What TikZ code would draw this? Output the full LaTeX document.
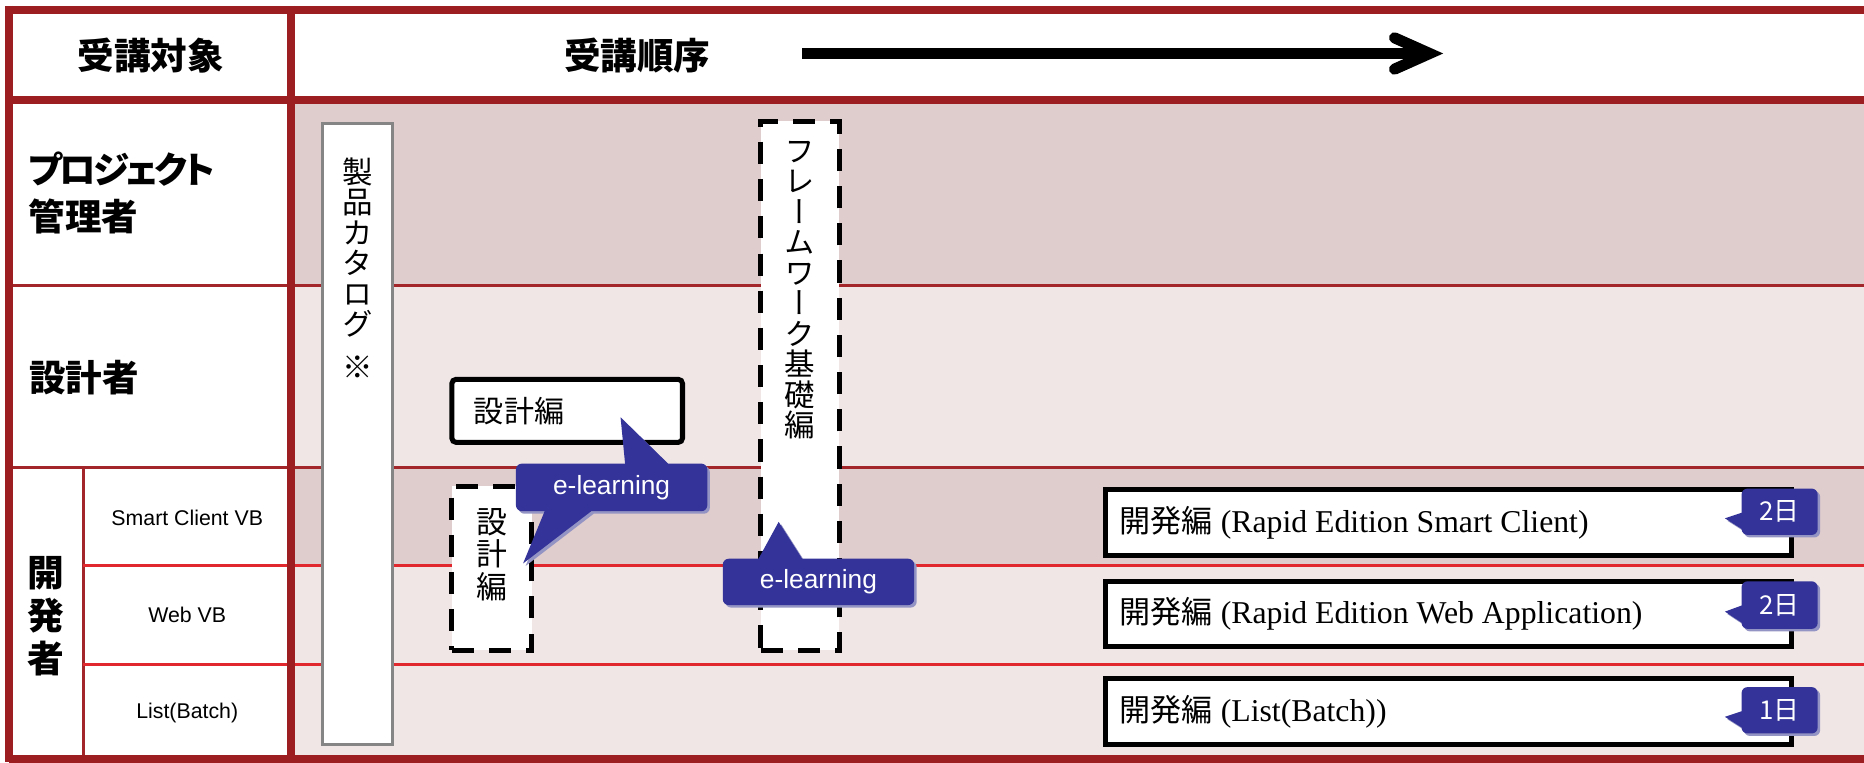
\documentclass[tikz,border=0pt]{standalone}
\usepackage{fontspec}
\usetikzlibrary{arrows.meta,shadows}
\newfontfamily\jp{Noto Sans CJK JP}
\newfontfamily\jpb[RawFeature=+palt]{Noto Sans CJK JP}
\newfontfamily\jpv[RawFeature=+vert]{Noto Sans CJK JP}
\newfontfamily\arial{Liberation Sans}
\newfontfamily\romanfont{Liberation Serif}
\definecolor{framered}{HTML}{9C1E21}
\definecolor{linered}{HTML}{A3262A}
\definecolor{brightred}{HTML}{E0282E}
\definecolor{rowdark}{HTML}{DFCCCC}
\definecolor{rowlight}{HTML}{F0E6E6}
\definecolor{boxgray}{HTML}{858585}
\definecolor{callblue}{HTML}{333399}
\definecolor{callshade}{HTML}{9494C4}

\begin{document}
\begin{tikzpicture}[x=1cm, y=-1cm,
  framerule/.style={draw=framered, line width=1.9pt},
  rowrule/.style={draw=linered, line width=0.7pt},
  subrule/.style={draw=brightred, line width=0.7pt},
  hdr/.style={font=\jpb\bfseries\fontsize{8.75}{11.3}\selectfont, inner sep=0pt},
  sublabel/.style={font=\arial\fontsize{5.1}{6}\selectfont, inner sep=0pt},
  vtext/.style={font=\jpv\fontsize{7.3}{7.3}\selectfont, align=center, inner sep=0pt},
  boxtext/.style={font=\jp\fontsize{7.2}{8}\selectfont, inner sep=0pt},
  devtext/.style={font=\romanfont\fontsize{7.6}{8}\selectfont, inner sep=0pt},
  catbox/.style={draw=boxgray, fill=white, line width=0.7pt, inner sep=0pt},
  solidbox/.style={draw=black, fill=white, line width=1.2pt, rounded corners=1pt, inner sep=0pt},
  dashbox/.style={draw=black, fill=white, line width=1.2pt, dash pattern=on 5.3pt off 3.6pt, inner sep=0pt},
  devbox/.style={draw=black, fill=white, line width=1.2pt, inner sep=0pt},
  callout/.style={fill=callblue, drop shadow={shadow xshift=0.6pt, shadow yshift=-0.6pt, fill=callshade, opacity=1}},
  calltext/.style={font=\arial\fontsize{6.3}{7}\selectfont, text=white, inner sep=0pt},
  daytext/.style={font=\jp\fontsize{6.2}{7}\selectfont, text=white, inner sep=0pt}]
  \useasboundingbox (0,0) rectangle (15.68,6.41);
  \fill[white] (0,0) rectangle (15.68,6.41);

  % row shading
  \fill[rowdark] (2.45,0.84) rectangle (15.68,2.40);
  \fill[rowlight] (2.45,2.40) rectangle (15.68,3.93);
  \fill[rowdark] (2.45,3.93) rectangle (15.68,4.76);
  \fill[rowlight] (2.45,4.76) rectangle (15.68,6.41);

  % row rules
  \draw[rowrule] (0.075,2.40) -- (15.68,2.40);
  \draw[rowrule] (0.075,3.93) -- (15.68,3.93);
  \draw[rowrule] (0.70,3.93) -- (0.70,6.38);
  \draw[subrule] (0.70,4.76) -- (15.68,4.76);
  \draw[subrule] (0.70,5.59) -- (15.68,5.59);

  % outer frame and header
  \draw[framerule] (0.075,0.085) -- (15.68,0.085);
  \draw[framerule] (0.075,0.84) -- (15.68,0.84);
  \draw[framerule] (0.075,0.05) -- (0.075,6.41);
  \draw[framerule] (2.45,0.05) -- (2.45,6.41);
  \draw[framerule] (0.075,6.385) -- (15.68,6.385);

  \node[hdr] (hdr_target) at (1.27,0.47) {受講対象};
  \node[hdr] (hdr_order) at (5.36,0.47) {受講順序};
  \coordinate (arrow_start) at (6.75,0.45);
  \coordinate (arrow_end) at (12.14,0.45);
  \draw[line width=2.65pt, -{Straight Barb[length=8.4pt,width=7.5pt,line join=miter,line cap=round]}] (arrow_start) -- (arrow_end);

  % row labels
  \node[hdr, anchor=west, align=left] (row_pm) at (0.235,1.625) {{\addfontfeatures{LetterSpace=-9}プロジェクト}\\管理者};
  \node[hdr, anchor=west] (row_design) at (0.24,3.175) {設計者};
  \node[hdr, align=center, font=\jpb\bfseries\fontsize{8.8}{10.3}\selectfont] (row_dev) at (0.385,5.185) {開\\発\\者};
  \node[sublabel] (sub_sc) at (1.575,4.355) {Smart Client VB};
  \node[sublabel] (sub_web) at (1.575,5.175) {Web VB};
  \node[sublabel] (sub_list) at (1.575,6.00) {List(Batch)};

  % course boxes
  \node[catbox, minimum width=0.59cm, minimum height=5.22cm, anchor=north west] (cat_box) at (2.70,1.03) {};
  \node[vtext, anchor=north] (cat_txt) at ([yshift=-0.29cm]cat_box.north) {製\\品\\カ\\タ\\ロ\\グ\\[3pt]※};
  \node[dashbox, minimum width=0.66cm, minimum height=4.45cm, anchor=north west] (fw_box) at (6.38,1.00) {};
  \node[vtext, anchor=north] (fw_txt) at ([yshift=-0.18cm]fw_box.north) {フ\\レ\\ー\\ム\\ワ\\ー\\ク\\基\\礎\\編};
  \node[solidbox, minimum width=1.94cm, minimum height=0.53cm, anchor=north west] (ds_hbox) at (3.78,3.17) {};
  \node[boxtext, anchor=west] (ds_htxt) at ([xshift=0.20cm]ds_hbox.west) {設計編};
  \node[dashbox, minimum width=0.67cm, minimum height=1.38cm, anchor=north west] (ds_vbox) at (3.78,4.07) {};
  \node[vtext, font=\jpv\fontsize{7.4}{7.8}\selectfont] (ds_vtxt) at ([yshift=0.115cm]ds_vbox.center) {設\\計\\編};

  % e-learning callouts
  \fill[callout] [rounded corners=0.05cm] (4.34,3.90) rectangle (5.95,4.30) [sharp corners]
    (5.22,3.51) -- (5.26,3.92) -- (5.64,3.92) -- cycle
    (4.59,4.28) -- (4.40,4.74) -- (5.00,4.28) -- cycle;
  \node[calltext] (elearn_a) at (5.145,4.10) {e-learning};
  \fill[callout] [rounded corners=0.05cm] (6.08,4.70) rectangle (7.69,5.09) [sharp corners]
    (6.55,4.39) -- (6.37,4.72) -- (6.76,4.72) -- cycle;
  \node[calltext] (elearn_b) at (6.885,4.895) {e-learning};

  % development courses
  \node[devbox, minimum width=5.77cm, minimum height=0.55cm, anchor=north west] (dev_sc) at (9.28,4.10) {};
  \node[devtext, anchor=west] (dev_sc_txt) at ([xshift=0.13cm]dev_sc.west) {{\jp\fontsize{7.45}{8}\selectfont 開発編} (Rapid Edition Smart Client)};
  \node[devbox, minimum width=5.77cm, minimum height=0.55cm, anchor=north west] (dev_web) at (9.28,4.87) {};
  \node[devtext, anchor=west] (dev_web_txt) at ([xshift=0.13cm]dev_web.west) {{\jp\fontsize{7.45}{8}\selectfont 開発編} (Rapid Edition Web Application)};
  \node[devbox, minimum width=5.77cm, minimum height=0.55cm, anchor=north west] (dev_list) at (9.28,5.69) {};
  \node[devtext, anchor=west] (dev_list_txt) at ([xshift=0.13cm]dev_list.west) {{\jp\fontsize{7.45}{8}\selectfont 開発編} (List(Batch))};

  % day badges
  \fill[callout] [rounded corners=0.05cm] (14.65,4.11) rectangle (15.29,4.50) [sharp corners]
    (14.66,4.31) -- (14.51,4.36) -- (14.73,4.50) -- cycle;
  \node[daytext] (day_sc) at (14.97,4.305) {2日};
  \fill[callout] [rounded corners=0.05cm] (14.65,4.89) rectangle (15.29,5.29) [sharp corners]
    (14.66,5.09) -- (14.51,5.145) -- (14.73,5.29) -- cycle;
  \node[daytext] (day_web) at (14.97,5.09) {2日};
  \fill[callout] [rounded corners=0.05cm] (14.65,5.78) rectangle (15.29,6.17) [sharp corners]
    (14.66,5.98) -- (14.51,6.03) -- (14.73,6.17) -- cycle;
  \node[daytext] (day_list) at (14.97,5.975) {1日};
\end{tikzpicture}
\end{document}
